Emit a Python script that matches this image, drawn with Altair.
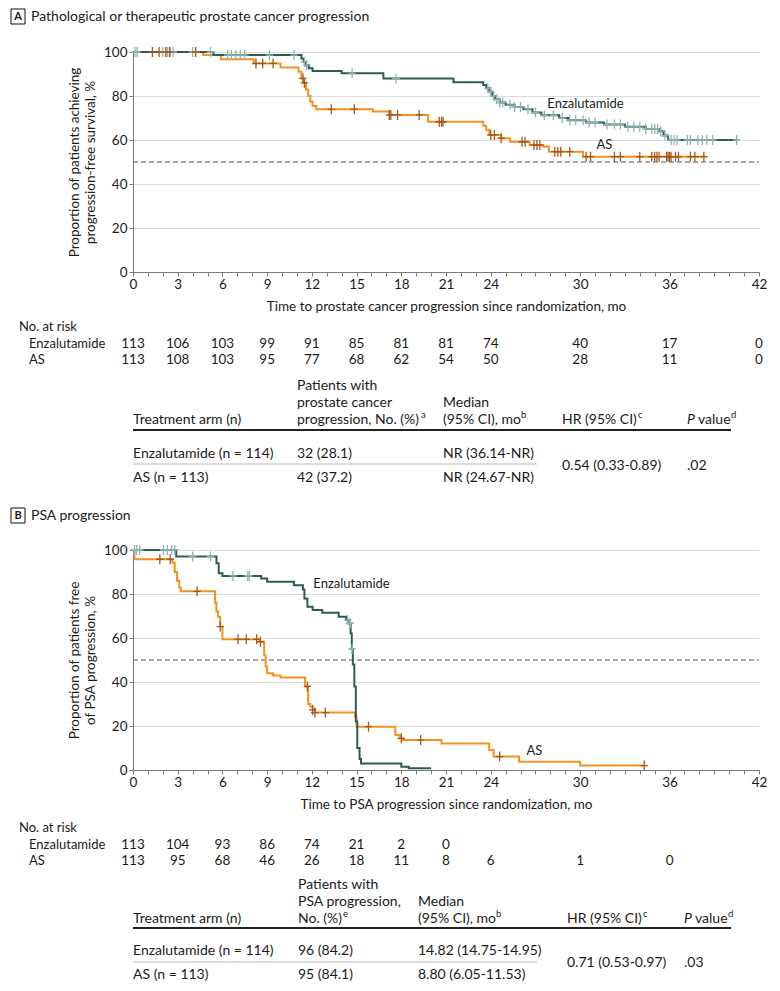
import altair as alt
import pandas as pd

# ---------------- data ----------------
# Panel A: pathological or therapeutic progression (Kaplan-Meier steps, %)
a_enz_time = [0, 5.4, 11.3, 11.45, 11.6, 11.8, 12.05, 14.0, 16.8, 21.5, 23.5, 23.7, 23.9, 24.1, 24.3,
              24.6, 25.0, 25.6, 26.2, 26.8, 27.4, 28.6, 29.2, 30.4, 31.6, 33.0, 34.4, 35.3, 35.6, 35.9, 40.6]
a_enz_surv = [100, 98.6, 97, 95.5, 94, 92.6, 91.4, 90.3, 88, 86.2, 85, 83.5, 82, 80, 78.5,
              77, 76, 75, 74, 72.5, 71.2, 70, 69, 68, 67, 66, 65, 64, 62, 60, 60]
a_as_time = [0, 4.7, 5.9, 8.1, 9.9, 11.1, 11.3, 11.45, 11.6, 11.75, 11.9, 12.05, 12.3, 16.1, 17.2,
             19.8, 23.5, 23.7, 23.9, 24.7, 25.3, 26.6, 27.5, 27.9, 30.2, 38.45]
a_as_surv = [100, 98.6, 96.7, 94.8, 93, 91, 88, 86, 83, 80, 77.5, 75.5, 74, 72.9, 71.4,
             68.3, 66.5, 64.5, 62.3, 60.8, 59.2, 57.7, 57, 54.7, 52.4, 52.4]
a_enz_censor = [0.13, 0.27, 2.0, 2.3, 2.5, 2.7, 4.0, 4.2, 5.2, 6.35, 6.6, 6.9, 7.2, 7.5, 9.15, 10.8,
                11.5, 11.65, 14.7, 17.65, 23.8, 24.0, 24.2, 24.4, 24.6, 24.8, 25.3, 25.6, 26.0, 26.5,
                27.0, 27.6, 28.2, 28.8, 29.3, 29.7, 30.2, 30.6, 31.0, 31.8, 32.3, 32.7, 33.2, 33.6,
                34.0, 34.4, 34.8, 35.0, 35.2, 35.4, 35.7, 36.1, 36.3, 36.5, 37.2, 37.4, 37.9, 38.2,
                38.5, 38.9, 40.5]
a_as_censor = [1.3, 1.75, 2.2, 2.45, 4.2, 8.25, 8.7, 9.4, 11.4, 11.5, 13.3, 14.85, 17.2, 17.3, 17.75,
               19.2, 20.55, 20.7, 20.8, 24.0, 24.25, 24.7, 26.1, 26.3, 26.9, 27.1, 27.3, 28.3, 28.5,
               28.7, 29.3, 30.4, 30.7, 32.3, 32.7, 34.0, 34.8, 35.0, 35.15, 35.3, 35.8, 35.9, 36.0,
               36.1, 36.4, 36.6, 37.4, 37.7, 38.3]

# Panel B: PSA progression
b_enz_time = [0, 2.9, 5.6, 5.75, 6.0, 8.6, 9.0, 10.8, 11.4, 11.5, 11.7, 12.05, 12.7, 13.8, 14.3,
              14.5, 14.6, 14.68, 14.75, 14.85, 14.95, 15.05, 15.2, 15.3, 18.0, 18.5, 20.0]
b_enz_surv = [100, 97, 94, 89.4, 88.2, 87.1, 85.6, 84, 82, 78, 74.2, 72.7, 71.5, 69.7, 68.2,
              66.7, 62, 55, 48, 38, 22, 10, 5, 3, 1.5, 0.8, 0.8]
b_as_time = [0, 0.1, 2.65, 2.8, 2.95, 3.1, 3.2, 5.5, 5.6, 5.7, 5.85, 6.0, 8.5, 8.8, 8.9, 9.0, 9.4,
             9.9, 11.55, 11.75, 11.9, 12.05, 12.2, 14.9, 15.0, 17.6, 17.9, 18.1, 20.7, 23.9, 24.2,
             25.9, 30.0, 34.3]
b_as_surv = [100, 95.8, 94.2, 90, 86, 83, 81.2, 76, 72, 69.7, 65.2, 59.4, 58.3, 52, 47, 44, 43,
             42, 38, 30, 28.8, 27.3, 26.1, 24.2, 19.7, 15.9, 14.4, 13.6, 12.1, 9.1, 6.1,
             3.8, 2.0, 2.0]
b_enz_censor = [0.1, 0.25, 0.45, 2.05, 2.3, 2.6, 2.8, 4.0, 5.2, 6.7, 7.7, 7.8, 14.4, 14.52, 14.58, 14.7]
b_as_censor = [1.8, 2.5, 4.3, 5.85, 7.05, 7.6, 8.3, 8.55, 11.7, 12.05, 12.2, 12.9, 15.8, 18.0, 19.3,
               24.6, 34.3]

# Numbers at risk
risk_a_time = [0, 3, 6, 9, 12, 15, 18, 21, 24, 30, 36, 42]
risk_a_enz = [113, 106, 103, 99, 91, 85, 81, 81, 74, 40, 17, 0]
risk_a_as = [113, 108, 103, 95, 77, 68, 62, 54, 50, 28, 11, 0]
risk_b_enz_time = [0, 3, 6, 9, 12, 15, 18, 21]
risk_b_enz = [113, 104, 93, 86, 74, 21, 2, 0]
risk_b_as_time = [0, 3, 6, 9, 12, 15, 18, 21, 24, 30, 36]
risk_b_as = [113, 95, 68, 46, 26, 18, 11, 8, 6, 1, 0]

x_labeled = [0, 3, 6, 9, 12, 15, 18, 21, 24, 30, 36, 42]

# Summary tables: header cells as (column, line, text, footnote letter)
table_a_header = [(0, 2, "Treatment arm (n)", ""),
                  (1, 0, "Patients with", ""), (1, 1, "prostate cancer", ""),
                  (1, 2, "progression, No. (%)", "a"),
                  (2, 1, "Median", ""), (2, 2, "(95% CI), mo", "b"),
                  (3, 2, "HR (95% CI)", "c")]
table_a_rows = [["Enzalutamide (n = 114)", "32 (28.1)", "NR (36.14-NR)"],
                ["AS (n = 113)", "42 (37.2)", "NR (24.67-NR)"]]
table_a_hr = "0.54 (0.33-0.89)"
table_a_p = ".02"
table_b_header = [(0, 2, "Treatment arm (n)", ""),
                  (1, 0, "Patients with", ""), (1, 1, "PSA progression,", ""),
                  (1, 2, "No. (%)", "e"),
                  (2, 1, "Median", ""), (2, 2, "(95% CI), mo", "b"),
                  (3, 2, "HR (95% CI)", "c")]
table_b_rows = [["Enzalutamide (n = 114)", "96 (84.2)", "14.82 (14.75-14.95)"],
                ["AS (n = 113)", "95 (84.1)", "8.80 (6.05-11.53)"]]
table_b_hr = "0.71 (0.53-0.97)"
table_b_p = ".03"

# ---------------- style ----------------
REG = "Lato"
COND = "Lato"
TXT = "#1a1a1a"
AX = "#7a7a7a"
ENZ_LINE = "#2d5b57"
ENZ_CENS = "#8db4b1"
AS_LINE = "#f7901e"
AS_CENS = "#a5581c"
PLUS = "M0,-1L0,1M-0.75,0L0.75,0"
W = 626
H = 220
TS = 14  # table font size
# approximate rendered widths (px at 14 px Lato) of header strings that carry a footnote letter
SUP_AT = {"progression, No. (%)": 124, "(95% CI), mo": 78, "HR (95% CI)": 76, "No. (%)": 45, "value": 33}

xs = alt.Scale(domain=[0, 42], nice=False, zero=False)
ys = alt.Scale(domain=[0, 100], nice=False)


def on_curve(times, surv, at):
    out = []
    for x in at:
        v = surv[0]
        for ti, si in zip(times, surv):
            if ti <= x:
                v = si
        out.append(v)
    return out


def x_axis(title):
    return alt.Axis(values=list(range(43)),
                    labelExpr="indexof(" + str(x_labeled) + ", datum.value) >= 0 ? datum.label : ''",
                    labelOverlap=False, labelFlush=False, tickSize=4, tickColor=AX, domainColor=AX,
                    labelFont=COND, labelFontSize=13.5, labelColor=TXT, labelPadding=1,
                    title=title, titleFont=COND, titleFontSize=13.5, titleFontWeight="normal",
                    titleColor=TXT, titlePadding=9, grid=False)


def y_axis(title):
    return alt.Axis(values=[0, 20, 40, 60, 80, 100], tickSize=4, tickColor=AX, domainColor=AX,
                    grid=True, gridColor="#dadada", gridWidth=1.2,
                    labelFont=REG, labelFontSize=13.5, labelColor=TXT, labelPadding=2,
                    title=title, titleFont=REG, titleFontSize=13.5, titleFontWeight="normal",
                    titleColor=TXT, titlePadding=6, titleLineHeight=16)


def km_panel(et, es, at, as_, ec, ac, labels, xtitle, ytitle):
    X = alt.X("t:Q", scale=xs, axis=x_axis(xtitle))
    Y = alt.Y("s:Q", scale=ys, axis=y_axis(ytitle))
    dash = alt.Chart(pd.DataFrame({"t": [0, 42], "s": [50, 50]})).mark_line(
        color="#555", strokeDash=[5, 3], strokeWidth=1).encode(x=X, y=Y)
    as_line = alt.Chart(pd.DataFrame({"t": at, "s": as_})).mark_line(
        interpolate="step-after", color=AS_LINE, strokeWidth=2).encode(x=X, y=Y)
    enz_line = alt.Chart(pd.DataFrame({"t": et, "s": es})).mark_line(
        interpolate="step-after", color=ENZ_LINE, strokeWidth=2).encode(x=X, y=Y)
    enz_c = alt.Chart(pd.DataFrame({"t": ec, "s": on_curve(et, es, ec)})).mark_point(
        shape=PLUS, size=100, filled=False, strokeWidth=1.3, color=ENZ_CENS, opacity=1).encode(x=X, y=Y)
    as_c = alt.Chart(pd.DataFrame({"t": ac, "s": on_curve(at, as_, ac)})).mark_point(
        shape=PLUS, size=100, filled=False, strokeWidth=1.3, color=AS_CENS, opacity=1).encode(x=X, y=Y)
    lab = alt.Chart(pd.DataFrame(labels)).mark_text(
        align="left", baseline="middle", font=REG, fontSize=13, color=TXT).encode(x=X, y=Y, text="label:N")
    return alt.layer(dash, as_line, enz_line, enz_c, as_c, lab).properties(width=W, height=H)


def txt(s, x, y, font=COND, size=TS, align="left", style="normal", weight="normal"):
    return alt.Chart(pd.DataFrame({"label": [s]})).mark_text(
        align=align, baseline="middle", font=font, fontSize=size, color=TXT,
        fontStyle=style, fontWeight=weight).encode(x=alt.value(x), y=alt.value(y), text="label:N")


def header(letter, title, h, top):
    box = alt.Chart(pd.DataFrame({"k": [0]})).mark_rect(
        fill="white", stroke="#111", strokeWidth=1).encode(
        x=alt.value(-122), x2=alt.value(-108), y=alt.value(top), y2=alt.value(top + 15))
    return alt.layer(box,
                     txt(letter, -115, top + 8, font=REG, size=11, align="center", weight="bold"),
                     txt(title, -102, top + 8, font=REG, size=14)).properties(width=W, height=h)


def below(rt_e, rn_e, rt_a, rn_a, hdr, rows, hr, p, cols, y0, hy0, rule_y, row_dy, h):
    layers = []
    X = alt.X("t:Q", scale=xs, axis=None)
    ry = [y0, y0 + 16.5, y0 + 33]
    layers.append(txt("No. at risk", -114, ry[0], size=13))
    layers.append(txt("Enzalutamide", -104, ry[1], size=13))
    layers.append(txt("AS", -104, ry[2], size=13))
    for tt, nn, yy in [(rt_e, rn_e, ry[1]), (rt_a, rn_a, ry[2])]:
        layers.append(alt.Chart(pd.DataFrame({"t": tt, "n": nn})).mark_text(
            align="center", baseline="middle", font=COND, fontSize=13.5, color=TXT).encode(
            x=X, y=alt.value(yy), text="n:Q"))
    hy = [hy0, hy0 + 17, hy0 + 34]
    for ci, li, s, sup in hdr:
        layers.append(txt(s, cols[ci], hy[li]))
        if sup:
            layers.append(txt(sup, cols[ci] + SUP_AT[s], hy[li] - 5, size=9.5))
    layers.append(txt("P", cols[4], hy[2], style="italic"))
    layers.append(txt("value", cols[4] + 11, hy[2]))
    layers.append(txt("d", cols[4] + 11 + SUP_AT["value"], hy[2] - 5, size=9.5))
    layers.append(alt.Chart(pd.DataFrame({"k": [0]})).mark_rule(color="#222", strokeWidth=2).encode(
        x=alt.value(0), x2=alt.value(598), y=alt.value(rule_y)))
    by = [rule_y + row_dy, rule_y + row_dy + 24]
    layers.append(alt.Chart(pd.DataFrame({"k": [0]})).mark_rule(color="#d0d0d0", strokeWidth=1.5).encode(
        x=alt.value(0), x2=alt.value(404), y=alt.value(rule_y + 34)))
    for ri, row in enumerate(rows):
        for ci, s in enumerate(row):
            layers.append(txt(s, cols[ci], by[ri]))
    layers.append(txt(hr, cols[3], rule_y + row_dy + 12))
    layers.append(txt(p, cols[4], rule_y + row_dy + 12))
    return alt.layer(*layers).properties(width=W, height=h)


plot_a = km_panel(a_enz_time, a_enz_surv, a_as_time, a_as_surv, a_enz_censor, a_as_censor,
                  {"t": [27.8, 31.1], "s": [76.5, 57.7], "label": ["Enzalutamide", "AS"]},
                  "Time to prostate cancer progression since randomization, mo",
                  ["Proportion of patients achieving", "progression-free survival, %"])
plot_b = km_panel(b_enz_time, b_enz_surv, b_as_time, b_as_surv, b_enz_censor, b_as_censor,
                  {"t": [12.1, 26.4], "s": [84.5, 8.5], "label": ["Enzalutamide", "AS"]},
                  "Time to PSA progression since randomization, mo",
                  ["Proportion of patients free", "of PSA progression, %"])

below_a = below(risk_a_time, risk_a_enz, risk_a_time, risk_a_as, table_a_header, table_a_rows,
                table_a_hr, table_a_p, [0, 164, 310, 429, 554], 55, 114, 158, 24, 228)
below_b = below(risk_b_enz_time, risk_b_enz, risk_b_as_time, risk_b_as, table_b_header, table_b_rows,
                table_b_hr, table_b_p, [0, 165, 285, 434, 551], 58, 115, 158, 23, 215)

head_a = header("A", "Pathological or therapeutic prostate cancer progression", 44, 1)
head_b = header("B", "PSA progression", 50, 8)

chart = alt.vconcat(head_a, plot_a, below_a, head_b, plot_b, below_b, spacing=0, bounds="flush").configure_view(
    stroke=None).properties(padding={"left": 2, "top": 0, "right": 5, "bottom": 5})

chart.save("out.html", embed_options={"renderer": "svg", "actions": False})
